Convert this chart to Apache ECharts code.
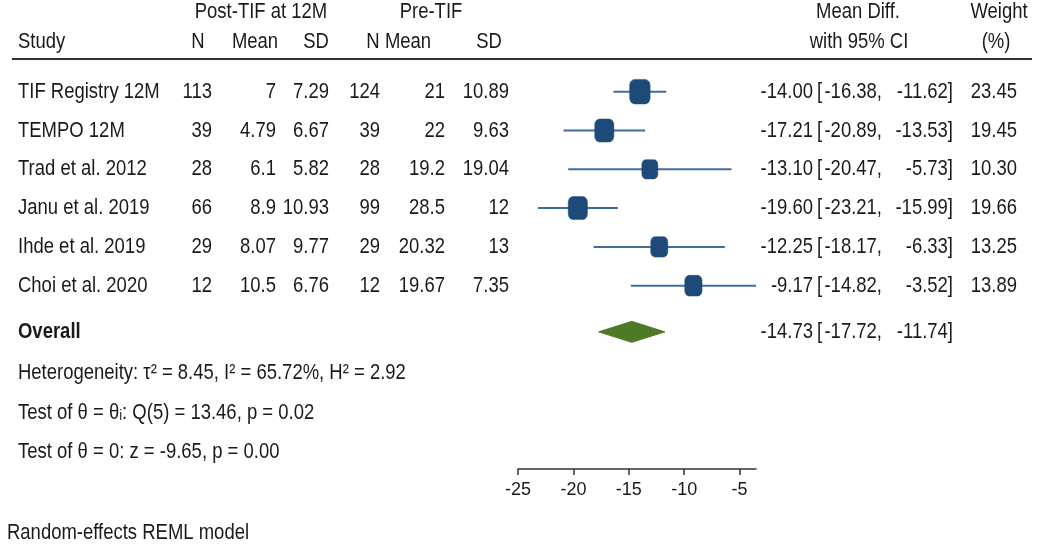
<!DOCTYPE html>
<html>
<head>
<meta charset="utf-8">
<script src="https://cdn.jsdelivr.net/npm/echarts@6/dist/echarts.min.js"></script>
<style>
html,body{margin:0;padding:0;background:#fff;}
#chart{width:1050px;height:553px;}
</style>
</head>
<body>
<div id="chart"></div>
<script>
// ---- data ----
const studies = ['TIF Registry 12M','TEMPO 12M','Trad et al. 2012','Janu et al. 2019','Ihde et al. 2019','Choi et al. 2020'];
const postN = ['113','39','28','66','29','12'];
const postMean = ['7','4.79','6.1','8.9','8.07','10.5'];
const postSD = ['7.29','6.67','5.82','10.93','9.77','6.76'];
const preN = ['124','39','28','99','29','12'];
const preMean = ['21','22','19.2','28.5','20.32','19.67'];
const preSD = ['10.89','9.63','19.04','12','13','7.35'];
const meanDiff = [-14.00,-17.21,-13.10,-19.60,-12.25,-9.17];
const ciLow = [-16.38,-20.89,-20.47,-23.21,-18.17,-14.82];
const ciHigh = [-11.62,-13.53,-5.73,-15.99,-6.33,-3.52];
const weights = [23.45,19.45,10.30,19.66,13.25,13.89];
const overallMD = -14.73, overallLow = -17.72, overallHigh = -11.74;
const xTicks = [-25,-20,-15,-10,-5];
const heterogeneityText = 'Heterogeneity: τ² = 8.45, I² = 65.72%, H² = 2.92';
const test1Text = 'Test of θ = θᵢ: Q(5) = 13.46, p = 0.02';
const test2Text = 'Test of θ = 0: z = -9.65, p = 0.00';
const footText = 'Random-effects REML model';

// ---- layout ----
const FONT = '"Liberation Sans Narrow","Arial Narrow","Liberation Sans",Arial,sans-serif';
const FS = 22;
const SX = 0.84;
const TXT = '#1a1a1a';
const COL = {study:18, n1:212, m1:276, sd1:329, n2:380, m2:445, sd2:509, est:813, brk:817, lo:882, hi:953, w:1017};
const ROW_OVERALL = 7.19;
const fmt = v => v.toFixed(2);

const rows = studies.map((s,i)=>i+1);

function txt(text,x,y,align,extra){
  return {type:'text', x:x, y:y, scaleX:SX, style:Object.assign({text:text, x:0, y:0, align:align, textAlign:align,
    verticalAlign:'middle', textVerticalAlign:'middle', fontSize:FS, fontFamily:FONT, fill:TXT}, extra||{})};
}

const chart = echarts.init(document.getElementById('chart'), null, {renderer:'canvas'});

const tableData = studies.map((s,i)=>[i, rows[i]]);
tableData.push([-1, ROW_OVERALL]);

const option = {
  animation:false,
  backgroundColor:'#fff',
  grid:{left:518, width:238, top:0, height:469},
  xAxis:{type:'value', min:-25, max:-3.52, position:'bottom',
    axisLine:{show:true, onZero:false, lineStyle:{color:'#333', width:1.5}},
    axisTick:{show:true, length:6, customValues:xTicks, lineStyle:{color:'#333', width:1.5}},
    axisLabel:{customValues:xTicks, fontSize:18, fontFamily:FONT, color:TXT, margin:12},
    splitLine:{show:false}},
  yAxis:{type:'value', inverse:true, min:-1.363, max:10.724, show:false},
  graphic:[
    txt('Post-TIF at 12M',261,12,'center'),
    txt('Pre-TIF',431,12,'center'),
    txt('Study',18,42,'left'),
    txt('N',198,42,'center'),
    txt('Mean',255,42,'center'),
    txt('SD',316,42,'center'),
    txt('N',373,42,'center'),
    txt('Mean',408,42,'center'),
    txt('SD',489,42,'center'),
    txt('Mean Diff.',858,12,'center'),
    txt('with 95% CI',859,42,'center'),
    txt('Weight',999,12,'center'),
    txt('(%)',996,42,'center'),
    {type:'line', shape:{x1:12, y1:59, x2:1032, y2:59}, style:{stroke:'#333', lineWidth:2}},
    txt(heterogeneityText,18,373,'left'),
    txt(test1Text,18,413,'left'),
    txt(test2Text,18,452,'left'),
    txt(footText,7,533,'left')
  ],
  series:[
    { // CI lines
      type:'custom',
      data: rows.map((r,i)=>[r, ciLow[i], ciHigh[i]]),
      renderItem:function(params, api){
        const p1 = api.coord([api.value(1), api.value(0)]);
        const p2 = api.coord([api.value(2), api.value(0)]);
        return {type:'line', shape:{x1:p1[0], y1:p1[1], x2:p2[0], y2:p2[1]}, style:{stroke:'#3f6d9b', lineWidth:2}};
      },
      z:2
    },
    { // squares
      type:'scatter',
      symbol:'roundRect',
      clip:false,
      data: rows.map((r,i)=>[meanDiff[i], r, weights[i]]),
      symbolSize:function(v){ const w = 12.5 + 0.34*v[2]; return [w, w*1.2]; },
      itemStyle:{color:'#1d4a78', borderColor:'#1d4a78', borderWidth:0.5, opacity:1},
      z:3
    },
    { // overall diamond
      type:'custom',
      data:[[overallLow, overallMD, overallHigh, ROW_OVERALL]],
      renderItem:function(params, api){
        const row = api.value(3);
        const l = api.coord([api.value(0), row]);
        const c = api.coord([api.value(1), row]);
        const r = api.coord([api.value(2), row]);
        const h = 10.5;
        return {type:'polygon', shape:{points:[[l[0],l[1]],[c[0],c[1]-h],[r[0],r[1]],[c[0],c[1]+h]]}, style:{fill:'#4e7a27', stroke:'#4e7a27'}};
      },
      z:3
    },
    { // table text
      type:'custom',
      data: tableData,
      renderItem:function(params, api){
        const i = api.value(0);
        const y = api.coord([-25, api.value(1)])[1];
        if (i < 0) {
          return {type:'group', children:[
            txt('Overall', COL.study, y, 'left', {fontWeight:'bold'}),
            txt(fmt(overallMD), COL.est, y, 'right'),
            txt('[', COL.brk, y, 'left'),
            txt(fmt(overallLow)+',', COL.lo, y, 'right'),
            txt(fmt(overallHigh)+']', COL.hi, y, 'right')
          ]};
        }
        return {type:'group', children:[
          txt(studies[i], COL.study, y, 'left'),
          txt(postN[i], COL.n1, y, 'right'),
          txt(postMean[i], COL.m1, y, 'right'),
          txt(postSD[i], COL.sd1, y, 'right'),
          txt(preN[i], COL.n2, y, 'right'),
          txt(preMean[i], COL.m2, y, 'right'),
          txt(preSD[i], COL.sd2, y, 'right'),
          txt(fmt(meanDiff[i]), COL.est, y, 'right'),
          txt('[', COL.brk, y, 'left'),
          txt(fmt(ciLow[i])+',', COL.lo, y, 'right'),
          txt(fmt(ciHigh[i])+']', COL.hi, y, 'right'),
          txt(fmt(weights[i]), COL.w, y, 'right')
        ]};
      },
      z:4
    }
  ]
};
chart.setOption(option);
</script>
</body>
</html>
